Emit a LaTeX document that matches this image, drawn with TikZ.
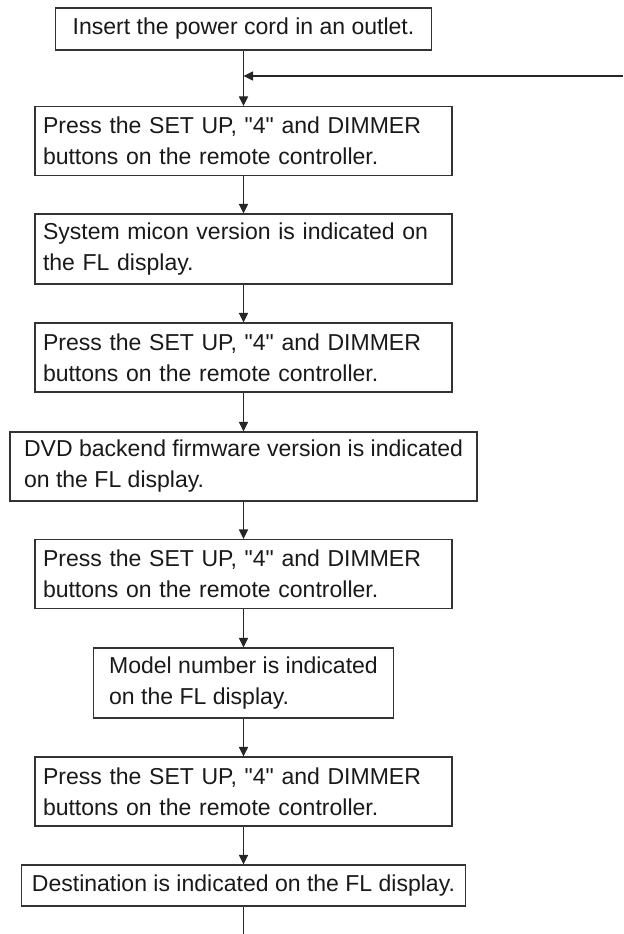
\documentclass[tikz,border=0pt]{standalone}
\usepackage{fontspec}
\setmainfont{Liberation Sans}
\usetikzlibrary{arrows.meta}

\begin{document}
\begin{tikzpicture}[line width=0.6pt,
  every node/.style={font=\fontsize{13.1}{17.6}\selectfont,text=black!90},
  stepbox/.style={draw=black!80,align=left,inner xsep=0.16cm,inner ysep=0.1cm,minimum height=1.38cm},
  flow/.style={draw=black!85,-{Triangle[length=1.9mm,width=1.8mm]}}]
  \useasboundingbox (0,0) rectangle (12.46,-18.68);
  \node[stepbox,minimum width=7.52cm,minimum height=0.84cm] (power) at (4.87,-0.58) {Insert the power cord in an outlet.};
  \node[stepbox,text width=8.02cm] (press1) at (4.87,-2.82) {Press the SET UP, \textquotedbl4\textquotedbl{} and DIMMER\\buttons on the remote controller.};
  \node[stepbox,text width=8.02cm,minimum height=1.40cm] (micon) at (4.87,-4.98) {System micon version is indicated on\\the FL display.};
  \node[stepbox,text width=8.02cm] (press2) at (4.87,-7.15) {Press the SET UP, \textquotedbl4\textquotedbl{} and DIMMER\\buttons on the remote controller.};
  \node[stepbox,minimum width=9.34cm,inner xsep=0.1cm] (dvd) at (4.87,-9.33) {DVD backend firmware version is indicated\\on the FL display.};
  \node[stepbox,text width=8.02cm] (press3) at (4.87,-11.48) {Press the SET UP, \textquotedbl4\textquotedbl{} and DIMMER\\buttons on the remote controller.};
  \node[stepbox,minimum width=6.0cm,minimum height=1.40cm] (model) at (4.87,-13.66) {Model number is indicated\\on the FL display.};
  \node[stepbox,text width=8.02cm] (press4) at (4.87,-15.83) {Press the SET UP, \textquotedbl4\textquotedbl{} and DIMMER\\buttons on the remote controller.};
  \node[stepbox,minimum width=8.88cm,minimum height=0.82cm,inner xsep=0.1cm] (dest) at (4.87,-17.71) {Destination is indicated on the FL display.};
  \coordinate (loopin) at (12.46,-1.52);
  \coordinate (merge) at (4.87,-1.52);
  \coordinate (tail) at (4.87,-18.68);
  \draw[flow] (loopin) -- (merge);
  \draw[flow] (power) -- (press1);
  \draw[flow] (press1) -- (micon);
  \draw[flow] (micon) -- (press2);
  \draw[flow] (press2) -- (dvd);
  \draw[flow] (dvd) -- (press3);
  \draw[flow] (press3) -- (model);
  \draw[flow] (model) -- (press4);
  \draw[flow] (press4) -- (dest);
  \draw[black!85] (dest) -- (tail);
\end{tikzpicture}
\end{document}
